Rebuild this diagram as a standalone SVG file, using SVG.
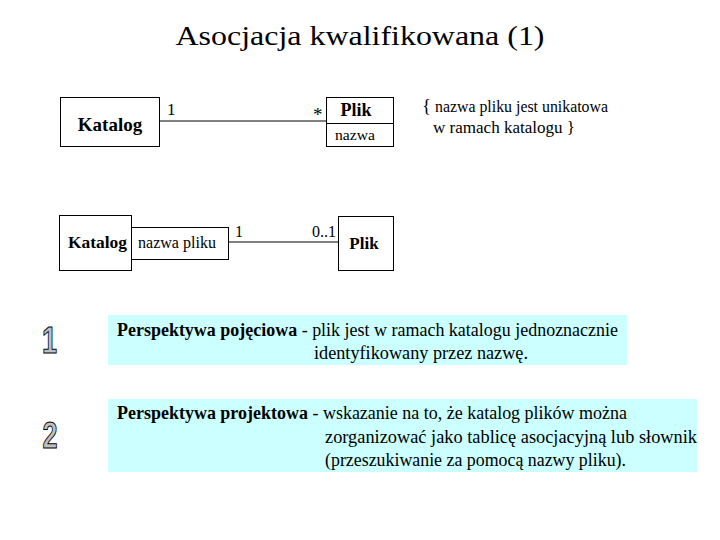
<svg xmlns="http://www.w3.org/2000/svg" width="720" height="540" viewBox="0 0 720 540">
<style>
.t{font-family:"Liberation Serif","Times New Roman",serif;fill:#000}
.b{font-weight:bold}
.box{fill:#fff;stroke:#000;stroke-width:1}
.note{fill:#ccffff}
.ln{stroke:#000;stroke-width:1;fill:none}
.dig{font-family:"Liberation Sans","DejaVu Sans",sans-serif;font-weight:bold;fill:#c0c0c0;stroke:#000;stroke-width:1}
</style>
<rect width="720" height="540" fill="#fff"/>
<text class="t" x="360" y="45" font-size="28" text-anchor="middle" textLength="369" lengthAdjust="spacingAndGlyphs">Asocjacja kwalifikowana (1)</text>

<g id="connectors">
<line class="ln" x1="160" y1="121" x2="326" y2="121"/>
<line class="ln" x1="228" y1="242" x2="338" y2="242"/>
<text class="t" x="167" y="115" font-size="17">1</text>
<text class="t" x="313" y="121" font-size="19">*</text>
<text class="t" x="235" y="237" font-size="16">1</text>
<text class="t" x="312" y="237" font-size="16">0..1</text>
</g>

<g id="katalog1">
<rect class="box" x="60.5" y="97.5" width="99" height="49"/>
<text class="t b" x="110" y="131" font-size="19" text-anchor="middle">Katalog</text>
</g>
<g id="plik1">
<rect class="box" x="326.5" y="97.5" width="67" height="49"/>
<line class="ln" x1="326.5" y1="123.5" x2="393.5" y2="123.5"/>
<text class="t b" x="356" y="116" font-size="18" text-anchor="middle">Plik</text>
<text class="t" x="335" y="140" font-size="15" textLength="40" lengthAdjust="spacingAndGlyphs">nazwa</text>
</g>
<g id="constraint">
<text class="t" x="422" y="112" font-size="16" textLength="186" lengthAdjust="spacingAndGlyphs"><tspan font-size="19">{</tspan> nazwa pliku jest unikatowa</text>
<text class="t" x="433" y="133" font-size="16" textLength="142" lengthAdjust="spacingAndGlyphs">w ramach katalogu }</text>
</g>

<g id="katalog2">
<rect class="box" x="59.5" y="215.5" width="72" height="55"/>
<text class="t b" x="68" y="248" font-size="17.5" textLength="59" lengthAdjust="spacingAndGlyphs">Katalog</text>
</g>
<g id="kwalifikator">
<rect class="box" x="131.5" y="227.5" width="97" height="32"/>
<text class="t" x="138" y="248" font-size="16" textLength="78" lengthAdjust="spacingAndGlyphs">nazwa pliku</text>
</g>
<g id="plik2">
<rect class="box" x="338.5" y="216.5" width="55" height="54"/>
<text class="t b" x="364" y="249" font-size="17" text-anchor="middle">Plik</text>
</g>

<g id="n1">
<text class="dig" x="49.5" y="353" font-size="36" text-anchor="middle" transform="translate(49.5 353) scale(0.75 1) translate(-49.5 -353)">1</text>
</g>
<g id="n2">
<text class="dig" x="50" y="448" font-size="36" text-anchor="middle" transform="translate(50 448) scale(0.75 1) translate(-50 -448)">2</text>
</g>

<g id="note1">
<rect class="note" x="108" y="315" width="519" height="50"/>
<text class="t" x="117" y="336" font-size="18" textLength="501" lengthAdjust="spacingAndGlyphs"><tspan class="b">Perspektywa pojęciowa</tspan> - plik jest w ramach katalogu jednoznacznie</text>
<text class="t" x="314" y="359" font-size="18" textLength="214" lengthAdjust="spacingAndGlyphs">identyfikowany przez nazwę.</text>
</g>
<g id="note2">
<rect class="note" x="108" y="399" width="589" height="73"/>
<text class="t" x="117" y="419" font-size="18" textLength="510" lengthAdjust="spacingAndGlyphs"><tspan class="b">Perspektywa projektowa</tspan> - wskazanie na to, że katalog plików można</text>
<text class="t" x="325" y="443" font-size="18" textLength="372" lengthAdjust="spacingAndGlyphs">zorganizować jako tablicę asocjacyjną lub słownik</text>
<text class="t" x="325" y="466" font-size="18" textLength="301" lengthAdjust="spacingAndGlyphs">(przeszukiwanie za pomocą nazwy pliku).</text>
</g>
</svg>
